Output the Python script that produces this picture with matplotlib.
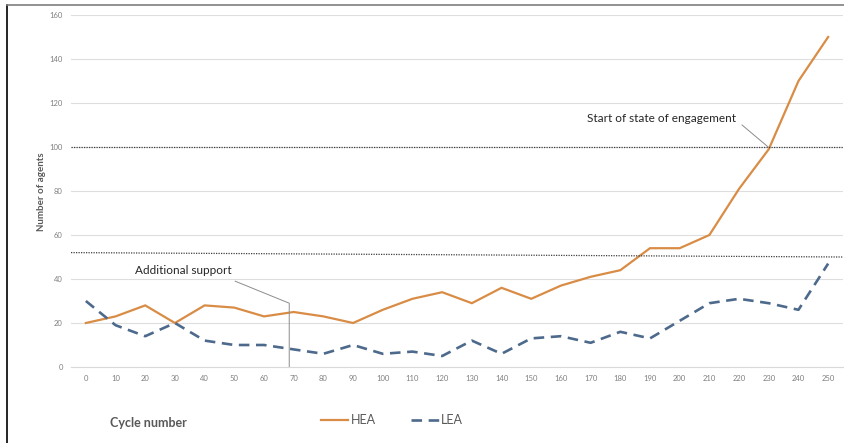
import matplotlib
matplotlib.use("Agg")
import matplotlib.pyplot as plt
from matplotlib.lines import Line2D

plt.rcParams['font.family'] = ['Lato', 'DejaVu Sans']

# === Datos ===
ciclos = list(range(0, 260, 10))
hea = [20, 23, 28, 20, 28, 27, 23, 25, 23, 20, 26, 31, 34, 29, 36, 31, 37, 41, 44, 54, 54, 60, 81, 99, 130, 150]
lea = [30, 19, 14, 20, 12, 10, 10, 8, 6, 10, 6, 7, 5, 12, 6, 13, 14, 11, 16, 13, 21, 29, 31, 29, 26, 47]

umbral_alto = 100
umbral_bajo = (52, 50)   # izquierda, derecha (ligeramente inclinada)
ciclo_apoyo = 68.5

naranja = '#d98c45'
azul = '#4d6a8c'
gris_texto = '#595959'

fig = plt.figure(figsize=(8.44, 4.43), dpi=100)
ax = fig.add_axes([71 / 844, 1 - 367 / 443, (843 - 71) / 844, (367 - 15) / 443])

ax.set_xlim(-5, 255)
ax.set_ylim(0, 160)
ax.set_yticks(range(0, 161, 20))
ax.set_xticks(ciclos)
ax.grid(axis='y', color='#dedede', linewidth=0.8)
ax.set_axisbelow(True)
for lado in ['top', 'right', 'left']:
    ax.spines[lado].set_visible(False)
ax.spines['bottom'].set_color('#d9d9d9')
ax.tick_params(length=0, labelsize=5.5, colors='#7f7f7f', pad=6)

# === Series ===
ax.plot(ciclos, hea, color=naranja, linewidth=1.6, solid_joinstyle='miter')
ax.plot(ciclos, lea, color=azul, linewidth=1.9, dashes=(4, 2.5))

# === Umbrales punteados ===
ax.plot([-5, 255], [umbral_alto, umbral_alto], color='#404040', linewidth=0.9, dashes=(1.0, 1.0))
ax.plot([-5, 255], list(umbral_bajo), color='#404040', linewidth=0.9, dashes=(1.0, 1.0))

# === Anotaciones ===
ax.text(16.5, 44, 'Additional support', fontsize=8.5, color='#262626', va='center', ha='left')
ax.plot([50.3, ciclo_apoyo, ciclo_apoyo], [39, 29, 0], color='#8c8c8c', linewidth=0.7)

ax.text(168.8, 113, 'Start of state of engagement', fontsize=8.5, color='#262626', va='center', ha='left')
ax.plot([221, 229.8], [110, 100], color='#8c8c8c', linewidth=0.7)

# === Etiquetas de ejes ===
fig.text(42 / 844, 1 - 192 / 443, 'Number of agents', rotation=90, fontsize=7, fontweight='bold',
         color=gris_texto, ha='center', va='center')
fig.text(110 / 844, 1 - 423 / 443, 'Cycle number', fontsize=9, fontweight='bold',
         color=gris_texto, ha='left', va='center')

# === Leyenda ===
manijas = [Line2D([], [], color=naranja, linewidth=1.6),
           Line2D([], [], color=azul, linewidth=1.9, dashes=(4, 2.5))]
fig.legend(manijas, ['HEA', 'LEA'], loc='center', bbox_to_anchor=(392 / 844, 1 - 420 / 443),
           ncol=2, frameon=False, fontsize=9, labelcolor=gris_texto, handlelength=2.2,
           handletextpad=0.2, columnspacing=2.8)

# === Marco ===
fig.add_artist(Line2D([7 / 844, 7 / 844], [0, 1 - 5 / 443], transform=fig.transFigure,
                      color='black', linewidth=1.2))
fig.add_artist(Line2D([7 / 844, 1], [1 - 5 / 443, 1 - 5 / 443], transform=fig.transFigure,
                      color='#7f7f7f', linewidth=1.2))

fig.savefig('out.png', dpi=100)
